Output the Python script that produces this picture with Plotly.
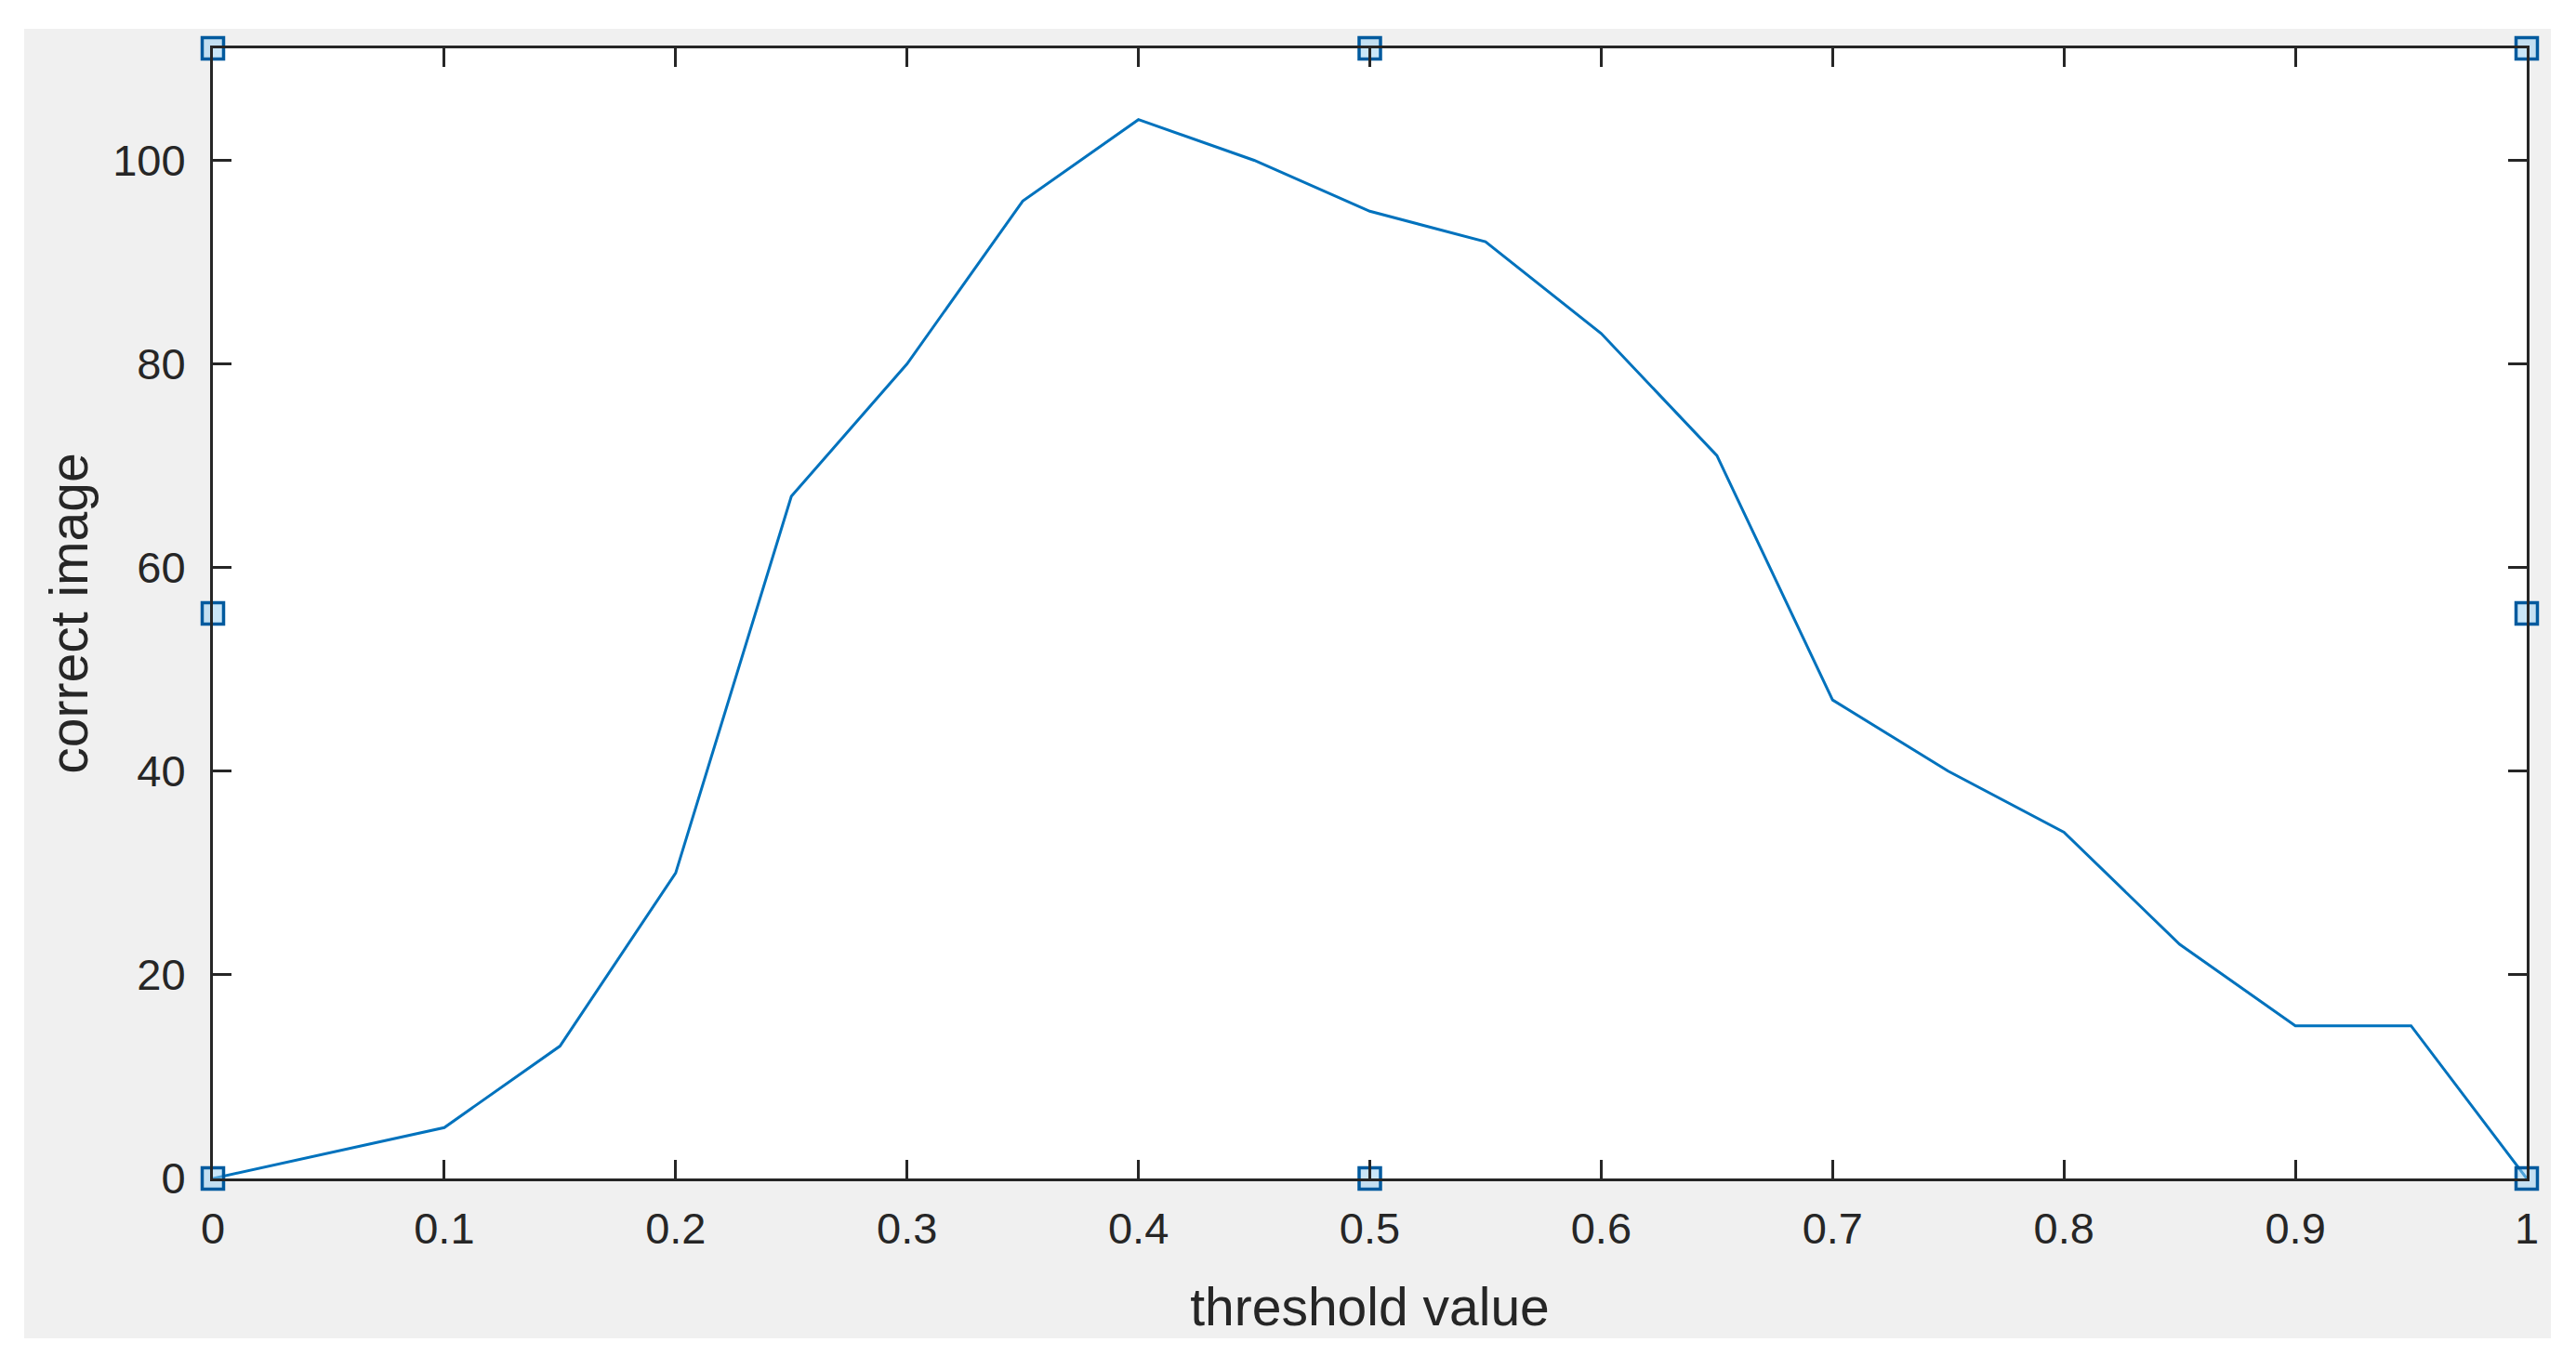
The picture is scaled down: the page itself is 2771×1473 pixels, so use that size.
import plotly.graph_objects as go

# threshold sweep
threshold = [0, 0.05, 0.1, 0.15, 0.2, 0.25, 0.3, 0.35, 0.4, 0.45, 0.5,
             0.55, 0.6, 0.65, 0.7, 0.75, 0.8, 0.85, 0.9, 0.95, 1]
correct = [0, 2.5, 5, 13, 30, 67, 80, 96, 104, 100, 95,
           92, 83, 71, 47, 40, 34, 23, 15, 15, 0]

x_ticks = [0, 0.1, 0.2, 0.3, 0.4, 0.5, 0.6, 0.7, 0.8, 0.9, 1]
x_labels = ["0", "0.1", "0.2", "0.3", "0.4", "0.5", "0.6", "0.7", "0.8", "0.9", "1"]
y_ticks = [0, 20, 40, 60, 80, 100]

x_lim = [0, 1]
y_lim = [0, 111]

# selection handles of the axes box (corners + edge midpoints)
handle_x = [0, 0.5, 1, 0, 1, 0, 0.5, 1]
handle_y = [0, 0, 0, 55.5, 55.5, 111, 111, 111]

W, H = 2771, 1473
off = 8  # page body margin
L, T = 229 - off, 52 - off
pw, ph = 2489, 1216
R, B = W - L - pw, H - T - ph

axcol = "#262626"
font = "Liberation Sans, Arial, sans-serif"

fig = go.Figure()
fig.add_trace(go.Scatter(x=threshold, y=correct, mode="lines",
                         line=dict(color="#0072BD", width=3), showlegend=False))
fig.add_trace(go.Scatter(x=handle_x, y=handle_y, mode="markers", cliponaxis=False,
                         marker=dict(symbol="square", size=23,
                                     color="rgba(150,205,242,0.5)",
                                     line=dict(color="#005A9E", width=3.5)),
                         showlegend=False))

# grey figure background behind the axes
fig.add_shape(type="rect", xref="paper", yref="paper", layer="below",
              x0=(26 - off - L) / pw, x1=(2744 - off - L) / pw,
              y0=(T + ph - (1440 - off)) / ph, y1=(T + ph - (31 - off)) / ph,
              fillcolor="#F0F0F0", line=dict(width=0))
fig.add_shape(type="rect", xref="paper", yref="paper", layer="below",
              x0=0, x1=1, y0=0, y1=1, fillcolor="white", line=dict(width=0))

axis_common = dict(showgrid=False, zeroline=False, showline=True, mirror="ticks",
                   linecolor=axcol, linewidth=3, ticks="inside", ticklen=20,
                   tickwidth=3, tickcolor=axcol,
                   tickfont=dict(family=font, size=47, color=axcol))

fig.update_xaxes(range=x_lim, tickvals=x_ticks, ticktext=x_labels,
                 ticklabelstandoff=11,
                 title=dict(text="threshold value", standoff=39,
                            font=dict(family=font, size=57, color=axcol)),
                 **axis_common)
fig.update_yaxes(range=y_lim, tickvals=y_ticks, ticklabelstandoff=17,
                 title=dict(text="correct image", standoff=9,
                            font=dict(family=font, size=57, color=axcol)),
                 **axis_common)

fig.update_layout(width=W, height=H, margin=dict(l=L, r=R, t=T, b=B),
                  paper_bgcolor="white", plot_bgcolor="white")

fig.write_html("out.html")
